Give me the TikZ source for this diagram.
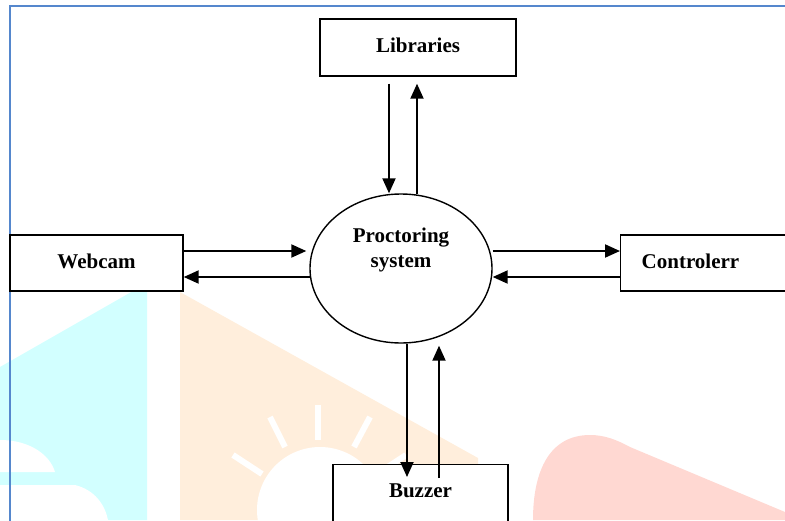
\documentclass[tikz,border=0pt]{standalone}
\usepackage{fontspec}
\setmainfont{Liberation Serif}
\usetikzlibrary{shapes.geometric,arrows.meta}
\definecolor{wmcyan}{RGB}{210,255,255}
\definecolor{wmorange}{RGB}{255,238,220}
\definecolor{wmpink}{RGB}{255,216,210}
\definecolor{frameblue}{RGB}{85,135,205}
\tikzset{
  blk/.style={draw=black, line width=1.4pt, fill=white, rectangle, inner sep=0pt,
    font=\bfseries\fontsize{21}{25}\selectfont, text height=15pt, text depth=5pt},
  procell/.style={draw=black, line width=1.4pt, ellipse, fill=white, inner sep=0pt,
    minimum width=182pt, minimum height=149pt},
  lbl/.style={font=\bfseries\fontsize{21}{25}\selectfont, align=center, inner sep=0pt},
  arr/.style={line width=2pt, -{Triangle[length=15pt,width=13pt]}},
  ray/.style={white, line width=6pt}
}
\begin{document}
\begin{tikzpicture}[x=1pt,y=-1pt]
\useasboundingbox (0,0) rectangle (785,520);
\clip (0,0) rectangle (785,520);
% watermark
\fill[wmcyan] (0,367) -- (147,283) -- (147,520) -- (0,520) -- cycle;
\fill[white] (0,472) -- (0,440) .. controls (30,440) and (50,455) .. (55,472) -- cycle;
\fill[white] (0,485) -- (75,485) .. controls (95,490) and (105,505) .. (108,520) -- (0,520) -- cycle;
\fill[wmorange] (180,292) -- (478,458) -- (478,520) -- (180,520) -- cycle;
\fill[white] (320,510) circle[radius=63];
\draw[ray] (318,405) -- (318,440);
\draw[ray] (270,417) -- (285,447);
\draw[ray] (233,455) -- (262,474);
\draw[ray] (370,417) -- (354,447);
\draw[ray] (406,455) -- (377,474);
\fill[wmpink] (533,520) .. controls (533,470) and (550,435) .. (590,435)
  .. controls (605,435) and (617,440) .. (630,447) -- (785,512) -- (785,520) -- cycle;
% frame
\draw[frameblue, line width=2pt] (9.5,530) -- (9.5,5.5) -- (800,5.5);
% nodes
\node[blk, minimum width=173pt, minimum height=56pt] (web) at (96.5,263) {Webcam};
\node[blk, minimum width=196pt, minimum height=57pt] (lib) at (418,47.5) {Libraries};
\node[blk, minimum height=56pt, anchor=west, text width=200pt,
  align=left, inner xsep=21pt] (ctrl) at (620,263) {Controlerr};
\node[blk, minimum width=175pt, anchor=north, text height=29pt, text depth=45pt,
  inner ysep=4pt] (buz) at (420.5,464) {Buzzer};
\node[procell] (ps) at (401,268.5) {};
\node[lbl] (pstext) at (401,250) {Proctoring\\system};
% connectors
\draw[arr] ([xshift=-29pt,yshift=-7pt]lib.south) -- ([xshift=-29pt]lib.south |- ps.north);
\draw[arr] ([xshift=-1pt,yshift=-1pt]lib.south |- ps.north) -- ([xshift=-1pt,yshift=-7pt]lib.south);
\draw[arr] ([yshift=12pt]web.east) -- ([yshift=12pt,xshift=-3pt]web.east -| ps.west);
\draw[arr] ([yshift=-14pt,xshift=2pt]web.east -| ps.west) -- ([yshift=-14pt]web.east);
\draw[arr] ([yshift=12pt]ctrl.west -| ps.east) -- ([yshift=12pt]ctrl.west);
\draw[arr] ([yshift=-14pt]ctrl.west) -- ([yshift=-14pt]ctrl.west -| ps.east);
\draw[arr] ([xshift=-13.5pt]buz.north |- ps.south) -- ([xshift=-13.5pt,yshift=-13pt]buz.north);
\draw[arr] ([xshift=18.5pt,yshift=-14pt]buz.north) -- ([xshift=18.5pt,yshift=-2pt]buz.north |- ps.south);
\end{tikzpicture}
\end{document}
